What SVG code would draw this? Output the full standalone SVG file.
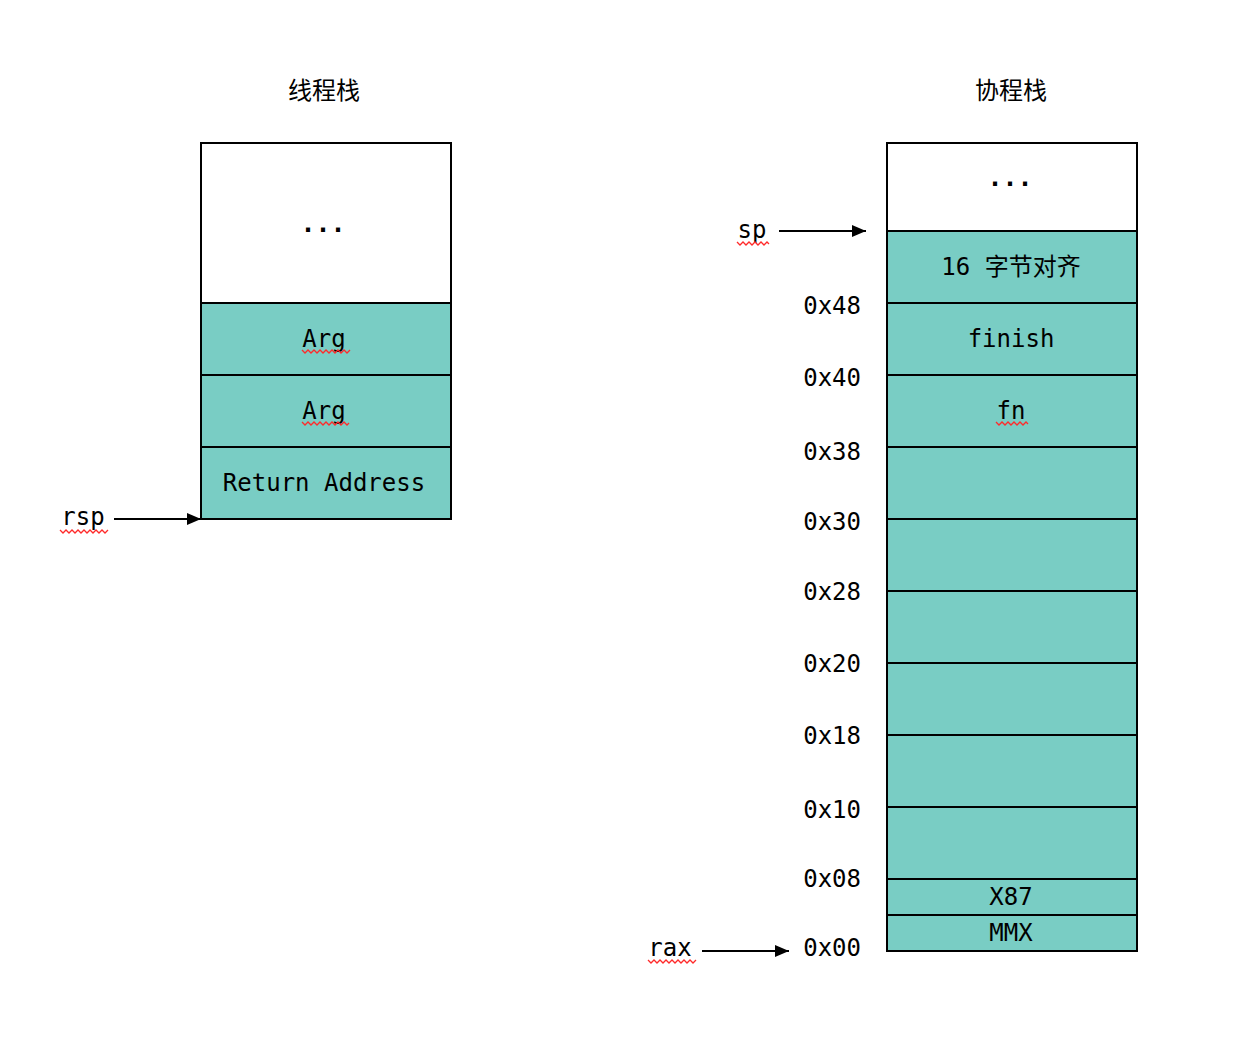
<svg xmlns="http://www.w3.org/2000/svg" width="1238" height="1050" viewBox="0 0 1238 1050">
<defs>
<style>
.cell{fill:#79cdc4;stroke:#000;stroke-width:2}
.blank{fill:#fff;stroke:#000;stroke-width:2}
.t{font-family:"DejaVu Sans Mono","Liberation Mono","Noto Sans CJK SC",monospace;font-size:24px;fill:#000;text-anchor:middle}
.dots{font-weight:bold;font-size:25px}
.lbl{font-family:"DejaVu Sans Mono","Liberation Mono",monospace;font-size:24px;fill:#000;text-anchor:end}
.title{font-family:"Noto Sans CJK SC",sans-serif;font-size:24px;fill:#000;text-anchor:middle}
.conn{stroke:#000;stroke-width:2;fill:none}
.sq{stroke:#ff2a2a;stroke-width:1.3;fill:none}
</style>
<marker id="arr" markerWidth="14" markerHeight="12" refX="14" refY="6" orient="auto" markerUnits="userSpaceOnUse">
<path d="M0,0 L14,6 L0,12 Z" fill="#000"/>
</marker>
</defs>
<rect width="1238" height="1050" fill="#fff"/>

<text class="title" x="324" y="99">线程栈</text>
<text class="title" x="1011" y="99">协程栈</text>

<g id="thread-stack">
<g id="t-top"><rect class="blank" x="201" y="143" width="250" height="160"/><text class="t dots" x="323" y="232">...</text></g>
<g id="t-arg1"><rect class="cell" x="201" y="303" width="250" height="72"/><text class="t" x="324" y="347">Arg</text></g>
<g id="t-arg2"><rect class="cell" x="201" y="375" width="250" height="72"/><text class="t" x="324" y="419">Arg</text></g>
<g id="t-ret"><rect class="cell" x="201" y="447" width="250" height="72"/><text class="t" x="324" y="491">Return Address</text></g>
</g>

<g id="co-stack">
<g id="c-top"><rect class="blank" x="887" y="143" width="250" height="88"/><text class="t dots" x="1010" y="186">...</text></g>
<g id="c-align"><rect class="cell" x="887" y="231" width="250" height="72"/><text class="t" x="1011" y="275">16 字节对齐</text></g>
<g id="c-finish"><rect class="cell" x="887" y="303" width="250" height="72"/><text class="t" x="1011" y="347">finish</text></g>
<g id="c-fn"><rect class="cell" x="887" y="375" width="250" height="72"/><text class="t" x="1011" y="419">fn</text></g>
<g id="c-r4"><rect class="cell" x="887" y="447" width="250" height="72"/></g>
<g id="c-r5"><rect class="cell" x="887" y="519" width="250" height="72"/></g>
<g id="c-r6"><rect class="cell" x="887" y="591" width="250" height="72"/></g>
<g id="c-r7"><rect class="cell" x="887" y="663" width="250" height="72"/></g>
<g id="c-r8"><rect class="cell" x="887" y="735" width="250" height="72"/></g>
<g id="c-r9"><rect class="cell" x="887" y="807" width="250" height="72"/></g>
<g id="c-x87"><rect class="cell" x="887" y="879" width="250" height="36"/><text class="t" x="1011" y="905">X87</text></g>
<g id="c-mmx"><rect class="cell" x="887" y="915" width="250" height="36"/><text class="t" x="1011" y="941">MMX</text></g>
</g>

<g id="addresses">
<text class="lbl" x="861" y="314">0x48</text>
<text class="lbl" x="861" y="386">0x40</text>
<text class="lbl" x="861" y="460">0x38</text>
<text class="lbl" x="861" y="530">0x30</text>
<text class="lbl" x="861" y="600">0x28</text>
<text class="lbl" x="861" y="672">0x20</text>
<text class="lbl" x="861" y="744">0x18</text>
<text class="lbl" x="861" y="818">0x10</text>
<text class="lbl" x="861" y="887">0x08</text>
<text class="lbl" x="861" y="956">0x00</text>
</g>

<g id="pointers">
<text class="t" x="83" y="525">rsp</text>
<text class="t" x="752" y="238">sp</text>
<text class="t" x="670" y="956">rax</text>
</g>

<g id="connectors">
<line class="conn" x1="114" y1="519" x2="201" y2="519" marker-end="url(#arr)"/>
<line class="conn" x1="779" y1="231" x2="866" y2="231" marker-end="url(#arr)"/>
<line class="conn" x1="702" y1="951" x2="789" y2="951" marker-end="url(#arr)"/>
</g>

<g id="spellmarks">
<polyline class="sq" points="302,350 305,353 308,350 311,353 314,350 317,353 320,350 323,353 326,350 329,353 332,350 335,353 338,350 341,353 344,350 347,353 350,350"/>
<polyline class="sq" points="302,422 305,425 308,422 311,425 314,422 317,425 320,422 323,425 326,422 329,425 332,422 335,425 338,422 341,425 344,422 347,425 349,423"/>
<polyline class="sq" points="60,530 63,533 66,530 69,533 72,530 75,533 78,530 81,533 84,530 87,533 90,530 93,533 96,530 99,533 102,530 105,533 108,530"/>
<polyline class="sq" points="737,242 740,245 743,242 746,245 749,242 752,245 755,242 758,245 761,242 764,245 767,242 769,244"/>
<polyline class="sq" points="996,422 999,425 1002,422 1005,425 1008,422 1011,425 1014,422 1017,425 1020,422 1023,425 1026,422 1028,424"/>
<polyline class="sq" points="648,960 651,963 654,960 657,963 660,960 663,963 666,960 669,963 672,960 675,963 678,960 681,963 684,960 687,963 690,960 693,963 696,960"/>
</g>
</svg>
